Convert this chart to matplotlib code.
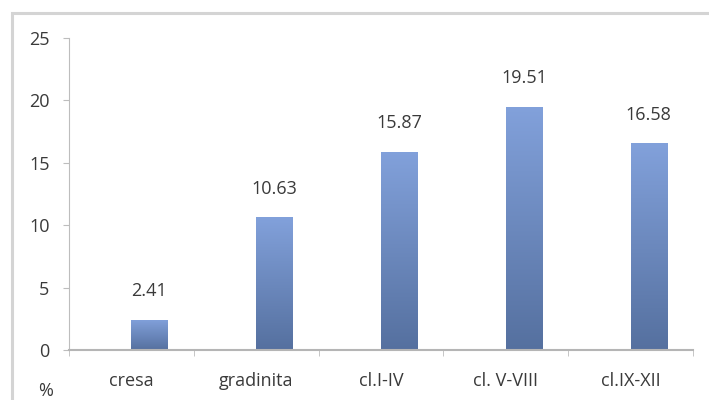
import numpy as np
import matplotlib
matplotlib.use('Agg')
import matplotlib.pyplot as plt
from matplotlib.patches import Rectangle

categories = ['cresa', 'gradinita', 'cl.I-IV', 'cl. V-VIII', 'cl.IX-XII']
values = [2.41, 10.63, 15.87, 19.51, 16.58]
value_labels = ['2.41', '10.63', '15.87', '19.51', '16.58']

plt.rcParams['font.family'] = ['Open Sans', 'DejaVu Sans']
text_color = '#3a3a3a'
fs = 13

fig = plt.figure(figsize=(7.09, 4.0), dpi=100)
ax = fig.add_axes([69 / 709, 0.125, (693 - 69) / 709, 0.78])

# outer chart frame, cut off on the right and at the bottom like the source
fig.patches.append(Rectangle((12 / 709, -0.1), 1.0, 1 - 13 / 400 + 0.1,
                             transform=fig.transFigure, fill=False,
                             edgecolor='#d4d4d4', lw=2.2, zorder=0))

x = np.arange(len(categories))
bars = ax.bar(x, values, width=0.29, align='edge', color='none', zorder=2)

# vertical gradient like the excel fill
grad = np.linspace(0, 1, 256).reshape(-1, 1)
cmap = matplotlib.colors.LinearSegmentedColormap.from_list('fill', ['#55709f', '#82a1db'])
for b in bars:
    x0, y0 = b.get_x(), b.get_y()
    w, h = b.get_width(), b.get_height()
    im = ax.imshow(grad, cmap=cmap, origin='lower', aspect='auto',
                   extent=(x0, x0 + w, y0, y0 + h), zorder=2)
    im.set_clip_path(b)

for b, lab in zip(bars, value_labels):
    ax.annotate(lab, (b.get_x() + b.get_width() / 2, b.get_height()),
                xytext=(0, 14), textcoords='offset points',
                ha='center', va='bottom', fontsize=fs, color=text_color)

ax.set_xlim(-0.5, len(categories) - 0.5)
ax.set_ylim(0, 25)
ax.set_yticks(np.arange(0, 26, 5))
ax.set_xticks(x)
ax.set_xticklabels(categories)
ax.set_xticks(np.arange(-0.5, len(categories)), minor=True)

for s in ['top', 'right']:
    ax.spines[s].set_visible(False)
ax.spines['left'].set_color('#bdbdbd')
ax.spines['bottom'].set_color('#b5b5b5')
ax.spines['bottom'].set_linewidth(1.5)

ax.tick_params(axis='y', length=4, color='#bdbdbd', pad=10,
               labelsize=fs, labelcolor=text_color)
ax.tick_params(axis='x', which='major', length=0, pad=16,
               labelsize=fs, labelcolor=text_color)
ax.tick_params(axis='x', which='minor', length=4, color='#bdbdbd')

fig.text(38 / 709, 0.0, '%', fontsize=fs, color=text_color, va='bottom')

fig.savefig('out.png', dpi=100)
